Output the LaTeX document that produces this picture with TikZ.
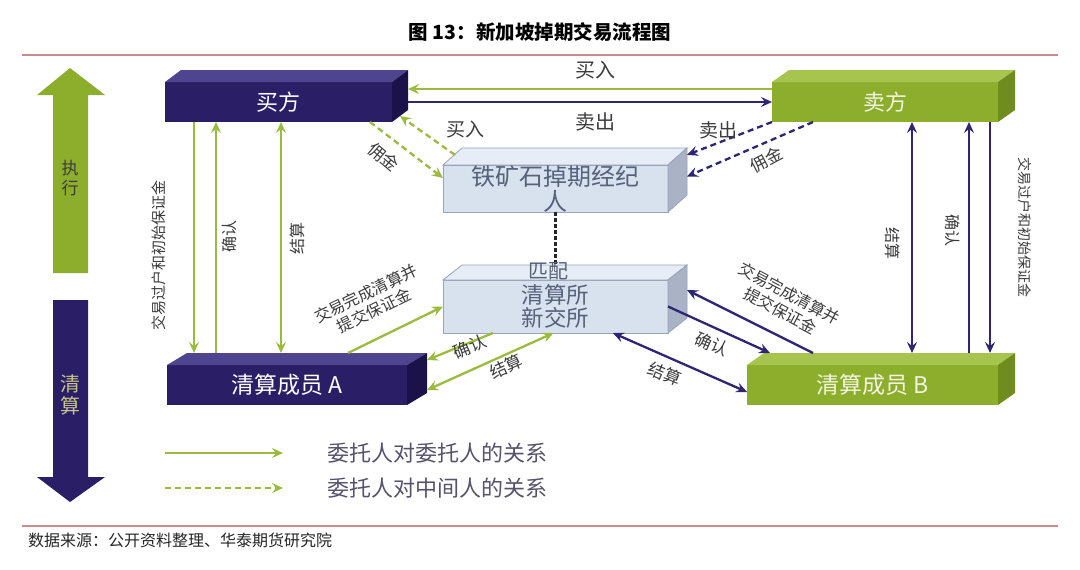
\documentclass[tikz,border=0pt]{standalone}
\usepackage{fontspec}
\setmainfont{Noto Sans CJK SC}
\usetikzlibrary{arrows.meta,calc}
\definecolor{pur}{HTML}{2A1F66}
\definecolor{purtop}{HTML}{4E448F}
\definecolor{purside}{HTML}{1B1249}
\definecolor{grn}{HTML}{8DAE2C}
\definecolor{grntop}{HTML}{A6C44E}
\definecolor{grnside}{HTML}{6F8C1E}
\definecolor{gline}{HTML}{9BBB3E}
\definecolor{pline}{HTML}{2E2673}
\definecolor{bfront}{HTML}{D8E2EF}
\definecolor{btop}{HTML}{E6EDF6}
\definecolor{bside}{HTML}{A9B3C5}
\definecolor{bedge}{HTML}{98A4B7}
\definecolor{btext}{HTML}{56617A}
\definecolor{lbltext}{HTML}{3C3C3C}
\definecolor{legtext}{HTML}{57526B}
\definecolor{rulec}{HTML}{C98C8C}
\newcommand\boxfaces[6]{%
  \path[fill=#4,#6] (#1.north west) -- ++(#2,#3) -- ($(#1.north east)+(#2,#3)$) -- (#1.north east) -- cycle;
  \path[fill=#5,#6] (#1.north east) -- ++(#2,#3) -- ($(#1.south east)+(#2,#3)$) -- (#1.south east) -- cycle;}
\begin{document}
\begin{tikzpicture}[x=1pt,y=-1pt,
  >={Stealth[length=11pt,width=10pt,inset=4pt]},
  box/.style={inner sep=0pt, outer sep=0pt, align=center},
  gl/.style={draw=gline, line width=2.3pt},
  pl/.style={draw=pline, line width=2.3pt},
  dsh/.style={dash pattern=on 6pt off 4pt},
  lab/.style={inner sep=0pt, text=lbltext, align=center},
]
\useasboundingbox (0,0) rectangle (1080,570);
\fill[white] (0,0) rectangle (1080,570);

% title, rules, source
\node[inner sep=0pt, font=\fontsize{19.5}{21}\selectfont\bfseries] (title) at (540,32) {图 13：新加坡掉期交易流程图};
\draw[rulec, line width=1.3pt] (22,55) -- (1058,55);
\draw[rulec, line width=1.3pt] (22,526) -- (1058,526);
\node[inner sep=0pt, anchor=west, font=\fontsize{16}{17}\selectfont, text=black!85] (src) at (28,540) {数据来源：公开资料整理、华泰期货研究院};

% big side arrows
\fill[grn] (70,68) -- (105,95) -- (88,95) -- (88,273) -- (53,273) -- (53,95) -- (37,95) -- cycle;
\node[lab, text=lbltext, font=\fontsize{17}{20}\selectfont] (exec) at (70,178) {执\\行};
\fill[pur] (53,300) -- (88,300) -- (88,477) -- (105,477) -- (70,502) -- (37,477) -- (53,477) -- cycle;
\node[lab, text={rgb,255:red,200;green,196;blue,140}, font=\fontsize{20}{22}\selectfont] (clr) at (70,395) {清\\算};

% boxes
\node[box, fill=pur, text=white, minimum width=227, minimum height=40, font=\fontsize{22}{24}\selectfont] (buyer) at (278.5,102) {买方};
\boxfaces{buyer}{16}{-12}{purtop}{purside}{}
\node[box, fill=grn, text={rgb,255:red,242;green,244;blue,225}, minimum width=226, minimum height=40, font=\fontsize{22}{24}\selectfont] (seller) at (885,102) {卖方};
\boxfaces{seller}{17}{-12}{grntop}{grnside}{}
\node[box, fill=pur, text=white, minimum width=240, minimum height=40, font=\fontsize{23}{24}\selectfont] (cma) at (287,385) {清算成员 A};
\boxfaces{cma}{20}{-12}{purtop}{purside}{}
\node[box, fill=grn, text={rgb,255:red,242;green,244;blue,225}, minimum width=251, minimum height=40, font=\fontsize{23}{24}\selectfont] (cmb) at (872.5,385) {清算成员 B};
\boxfaces{cmb}{17}{-12}{grntop}{grnside}{}
\node[box, fill=bfront, draw=bedge, line width=0.8pt, text=btext, minimum width=225, minimum height=47, font=\fontsize{24}{25}\selectfont] (broker) at (555.5,188.5) {铁矿石掉期经纪\\人};
\boxfaces{broker}{19}{-17}{btop}{bside}{draw=bedge, line width=0.8pt}
\node[box, fill=bfront, draw=bedge, line width=0.8pt, text=btext, minimum width=225, minimum height=53, font=\fontsize{22.5}{23}\selectfont] (clear) at (555.5,306.5) {清算所\\新交所};
\boxfaces{clear}{19}{-15}{btop}{bside}{draw=bedge, line width=0.8pt}

% broker - clearing match line
\draw[black!85, line width=3.5pt, dash pattern=on 4pt off 2pt] (broker.south) -- ($(clear.north)+(0,-14)$);
\node[lab, text=btext, font=\fontsize{20}{22}\selectfont] (match) at (548,271) {匹配};

% top lines buyer <-> seller
\draw[gl,->] ($(seller.west)+(0,-13)$) -- ($(buyer.east)+(16,-13)$);
\draw[pl,->] ($(buyer.east)+(16,0)$) -- (seller.west);
\node[lab, font=\fontsize{20}{22}\selectfont] (l_buy) at (595,70) {买入};
\node[lab, font=\fontsize{20}{22}\selectfont] (l_sell) at (595,122) {卖出};

% broker dashed
\draw[gl,dsh,->] ($(buyer.south)+(91.5,0)$) -- ($(broker.west)+(0,-10.5)$);
\draw[gl,dsh,->] ($(broker.north west)+(12,-10)$) -- ($(buyer.south east)+(8,-6)$);
\draw[pl,dsh,->] (seller.south west) -- ($(broker.north east)+(19,-10)$);
\draw[pl,dsh,->] ($(seller.south west)+(41,0)$) -- ($(broker.east)+(19,-12)$);
\node[lab, font=\fontsize{17}{19}\selectfont, rotate=-40] (l_c1) at (384,157) {佣金};
\node[lab, font=\fontsize{19}{21}\selectfont] (l_buy2) at (465,129) {买入};
\node[lab, font=\fontsize{19}{21}\selectfont] (l_sell2) at (718,130) {卖出};
\node[lab, font=\fontsize{17}{19}\selectfont, rotate=28] (l_c2) at (766,160) {佣金};

% left verticals (green)
\draw[gl,->] ($(buyer.south)+(-84.5,0)$) -- ($(cma.north)+(-93,-12)$);
\draw[gl,->] ($(cma.north)+(-71,-12)$) -- ($(buyer.south)+(-62.5,0)$);
\draw[gl,<->] ($(buyer.south)+(2.5,0)$) -- ($(cma.north)+(-6,-12)$);
\node[lab, font=\fontsize{15}{17}\selectfont, rotate=90] (l_tr1) at (159,255) {交易过户和初始保证金};
\node[lab, font=\fontsize{16}{18}\selectfont, rotate=90] (l_cf1) at (229,236) {确认};
\node[lab, font=\fontsize{16}{18}\selectfont, rotate=90] (l_st1) at (297,238) {结算};

% right verticals (purple)
\draw[pl,<->] ($(seller.south)+(27,0)$) -- ($(cmb.north)+(39.5,-12)$);
\draw[pl,->] ($(cmb.north)+(96.5,-12)$) -- ($(seller.south)+(84,0)$);
\draw[pl,->] ($(seller.south)+(105,0)$) -- ($(cmb.north)+(117.5,-12)$);
\node[lab, font=\fontsize{16}{18}\selectfont, rotate=-90] (l_st2) at (893,243) {结算};
\node[lab, font=\fontsize{16}{18}\selectfont, rotate=-90] (l_cf2) at (953,230) {确认};
\node[lab, font=\fontsize{14}{16}\selectfont, rotate=-90] (l_tr2) at (1025,227) {交易过户和初始保证金};

% clearing member A <-> clearing house (green)
\draw[gl,->] ($(cma.north)+(61,-12)$) -- (clear.west);
\draw[gl,->] ($(clear.south west)+(50,0)$) -- ($(cma.north east)+(20,-5)$);
\draw[gl,<->] ($(cma.south east)+(20,-15)$) -- ($(clear.south)+(-2,0)$);
\node[lab, font=\fontsize{16}{19}\selectfont, rotate=26] (l_done1) at (370,302) {交易完成清算并\\提交保证金};
\node[lab, font=\fontsize{17}{19}\selectfont, rotate=23] (l_cf3) at (470,347) {确认};
\node[lab, font=\fontsize{17}{19}\selectfont, rotate=24] (l_st3) at (506,367) {结算};

% clearing member B <-> clearing house (purple)
\draw[pl,->] ($(cmb.north west)+(66,-12)$) -- ($(clear.north east)+(19,10)$);
\draw[pl,->] (clear.east) -- ($(cmb.north west)+(23,-12)$);
\draw[pl,<->] ($(clear.south east)+(-55,0)$) -- ($(cmb.west)+(0,7)$);
\node[lab, font=\fontsize{16}{19}\selectfont, rotate=-28] (l_done2) at (785,302) {交易完成清算并\\提交保证金};
\node[lab, font=\fontsize{17}{19}\selectfont, rotate=-24] (l_cf4) at (712,344) {确认};
\node[lab, font=\fontsize{17}{19}\selectfont, rotate=-23] (l_st4) at (665,374) {结算};

% legend
\coordinate (la1) at (165,453);
\coordinate (lb1) at (283,453);
\coordinate (la2) at (165,488);
\coordinate (lb2) at (283,488);
\draw[gl,->] (la1) -- (lb1);
\draw[gl,dsh,->] (la2) -- (lb2);
\node[inner sep=0pt, anchor=west, text=legtext, font=\fontsize{22}{23}\selectfont] (leg1) at (327,453) {委托人对委托人的关系};
\node[inner sep=0pt, anchor=west, text=legtext, font=\fontsize{22}{23}\selectfont] (leg2) at (327,488) {委托人对中间人的关系};
\end{tikzpicture}
\end{document}
